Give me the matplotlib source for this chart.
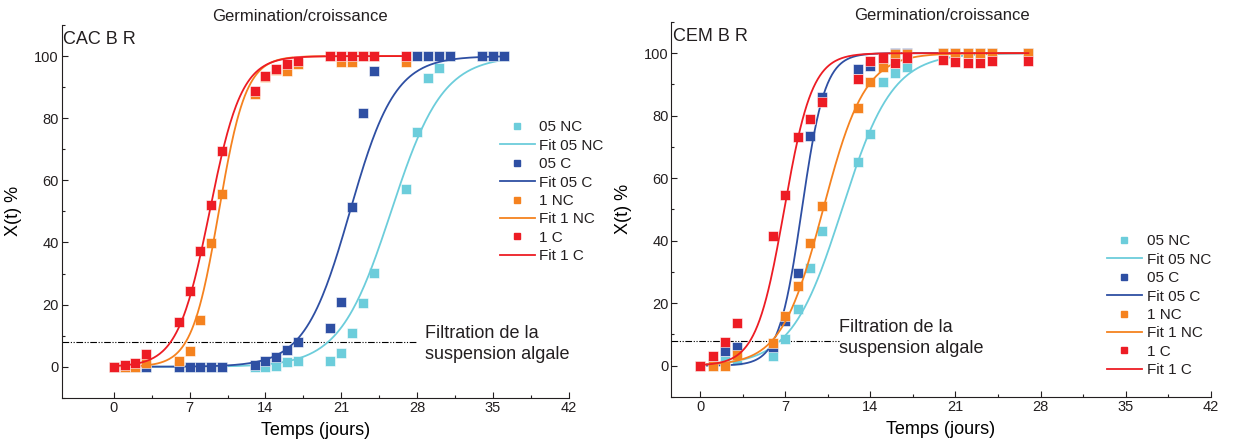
"""
Germination/croissance - CAC B R and CEM B R
"""
import numpy as np
import matplotlib as mpl
mpl.use('Agg')
import matplotlib.pyplot as plt
from matplotlib.lines import Line2D

mpl.rcParams.update({
    'font.family': ['Liberation Sans', 'DejaVu Sans'],
    'font.size': 11,
    'text.color': '#231f20',
    'axes.edgecolor': '#231f20',
    'xtick.color': '#231f20',
    'ytick.color': '#231f20',
})

# series order: 05 NC, 05 C, 1 NC, 1 C
series = ['05 NC', '05 C', '1 NC', '1 C']
colors = ['#6ccddb', '#2e4fa3', '#f5821f', '#ed1c24']

# ---- CAC B R (left) ----
days_L = [0, 1, 2, 3, 6, 7, 8, 9, 10, 13, 14, 15, 16, 17, 20, 21, 22, 23, 24, 27]
days_L_05nc = [0, 1, 2, 3, 6, 7, 8, 9, 10, 13, 14, 15, 16, 17, 20, 21, 22, 23, 24,
               27, 28, 29, 30, 31, 34, 35, 36]
days_L_05c = [0, 1, 2, 3, 6, 7, 8, 9, 10, 13, 14, 15, 16, 17, 20, 21, 22, 23, 24,
              28, 29, 30, 31, 34, 35, 36]
cac_05nc = [0, 0, 0, 0, 0, 0, 0, 0, 0, 0, 0, 0.3, 1.5, 1.7, 1.7, 4.4, 11.0, 20.5, 30.3,
            57.2, 75.7, 93.0, 96.2, 100, 100, 100, 100]
cac_05c = [0, 0, 0, 0, 0, 0, 0, 0, 0, 0.5, 1.7, 3.0, 5.5, 8.1, 12.6, 20.7, 51.5, 81.8, 95.3,
           100, 100, 100, 100, 100, 100, 100]
cac_1nc = [0, 0, 0, 1.2, 1.7, 5.2, 14.9, 39.8, 55.5, 87.8, 93.3, 95.5, 95.3, 97.6,
           100, 98.0, 98.0, 100, 100, 98.2]
cac_1c = [0, 0.6, 1.2, 4.2, 14.3, 24.5, 37.4, 52.1, 69.6, 88.7, 93.7, 96.0, 97.4, 98.5,
          100, 100, 100, 100, 100, 100]
# logistic fit parameters: midpoint (days), rate, last day
cac_t50 = [25.6, 21.8, 9.7, 8.85]
cac_rate = [0.42, 0.48, 0.80, 0.68]
cac_tend = [36, 36, 27, 27]

# ---- CEM B R (right) ----
days_R = [0, 1, 2, 3, 6, 7, 8, 9, 10, 13, 14, 15, 16, 17, 20, 21, 22, 23, 24, 27]
cem_05nc = [0, 0, 1.4, 1.7, 3.0, 8.5, 18.1, 31.4, 43.0, 65.1, 74.2, 90.9, 93.8, 95.5,
            100, 100, 100, 100, 100, 100]
cem_05c = [0, 0.5, 4.6, 6.0, 6.0, 14.2, 29.6, 73.5, 86.1, 95.0, 95.9, 98.0, 100, 100,
           100, 100, 100, 100, 100, 100]
cem_1nc = [0, 0, 0, 3.5, 7.3, 16.0, 25.6, 39.2, 51.2, 82.4, 90.9, 95.5, 99.8, 99.8,
           100, 100, 100, 100, 100, 100]
cem_1c = [0, 3.0, 7.5, 13.6, 41.4, 54.5, 73.3, 78.9, 84.5, 91.8, 97.6, 98.4, 96.8, 98.4,
          97.9, 97.3, 96.8, 96.8, 97.5, 97.6]
cem_t50 = [11.65, 8.35, 10.1, 6.9]
cem_rate = [0.48, 1.05, 0.58, 0.87]
cem_tend = [27, 27, 27, 27]

filtration = 8  # % level at which the algal suspension was filtered


def fit_curve(t50, rate, tend):
    t = np.linspace(0, tend, 300)
    return t, 100.0 / (1.0 + np.exp(-rate * (t - t50)))


def draw_panel(ax, xs, ys, t50s, rates, tends, name, xlim, filt_end, txt_x, txt_y):
    for i in range(4):
        ax.plot(xs[i], ys[i], 's', color=colors[i], ms=7, mec='white', mew=0.4,
                zorder=3 + i)
        t, y = fit_curve(t50s[i], rates[i], tends[i])
        ax.plot(t, y, '-', color=colors[i], lw=1.3, zorder=3 + i)
    ax.plot([xlim[0], filt_end], [filtration, filtration], color='black', lw=0.8,
            ls=(0, (6, 1.5, 1, 1.5, 1, 1.5)), zorder=2)
    ax.text(txt_x, txt_y, 'Filtration de la\nsuspension algale', fontsize=13,
            va='center', ha='left', linespacing=1.3)
    ax.text(0.003, 0.985, name, transform=ax.transAxes, fontsize=13,
            va='top', ha='left')
    ax.set_xlim(*xlim)
    ax.set_ylim(-10, 110)
    ax.set_xticks(np.arange(0, 43, 7))
    ax.set_xticks(np.arange(0, 43, 3.5), minor=True)
    ax.set_yticks(np.arange(0, 101, 20))
    ax.set_yticks(np.arange(-10, 111, 10), minor=True)
    ax.tick_params(direction='in', length=4, width=0.8, labelsize=10.5, pad=2)
    ax.tick_params(which='minor', direction='in', length=2.5, width=0.8)
    for sp in ['top', 'right']:
        ax.spines[sp].set_visible(False)
    ax.set_xlabel('Temps (jours)', fontsize=13)
    ax.set_ylabel('X(t) %', fontsize=13)
    ax.xaxis.set_label_coords(0.5, -0.065)


fig = plt.figure(figsize=(12.34, 4.47), dpi=100, facecolor='white')
axL = fig.add_axes([0.050, 0.110, 0.411, 0.834])
axR = fig.add_axes([0.544, 0.112, 0.437, 0.839])

draw_panel(axL, [days_L_05nc, days_L_05c, days_L, days_L],
           [cac_05nc, cac_05c, cac_1nc, cac_1c],
           cac_t50, cac_rate, cac_tend, 'CAC B R', (-4.8, 42), 28, 28.7, 7.4)
axL.yaxis.set_label_coords(-0.078, 0.5)
draw_panel(axR, [days_R] * 4, [cem_05nc, cem_05c, cem_1nc, cem_1c],
           cem_t50, cem_rate, cem_tend, 'CEM B R', (-2.4, 42), 11.4, 11.4, 8.8)
axR.yaxis.set_label_coords(-0.072, 0.5)

fig.text(0.243, 0.962, 'Germination/croissance', fontsize=12, ha='center', va='center')
fig.text(0.763, 0.966, 'Germination/croissance', fontsize=12, ha='center', va='center')

handles, labels = [], []
for i, s in enumerate(series):
    handles.append(Line2D([], [], ls='none', marker='s', color=colors[i], ms=5))
    labels.append(s)
    handles.append(Line2D([], [], ls='-', color=colors[i], lw=1.3))
    labels.append('Fit ' + s)

leg_kw = dict(loc='upper left', frameon=False, fontsize=11, handlelength=2.3,
              handletextpad=0.3, labelspacing=0.29, borderpad=0, borderaxespad=0)
fig.legend(handles, labels, bbox_to_anchor=(0.405, 0.731), **leg_kw)
fig.legend(handles, labels, bbox_to_anchor=(0.897, 0.476), **leg_kw)

fig.savefig('out.png', dpi=100, facecolor='white')
